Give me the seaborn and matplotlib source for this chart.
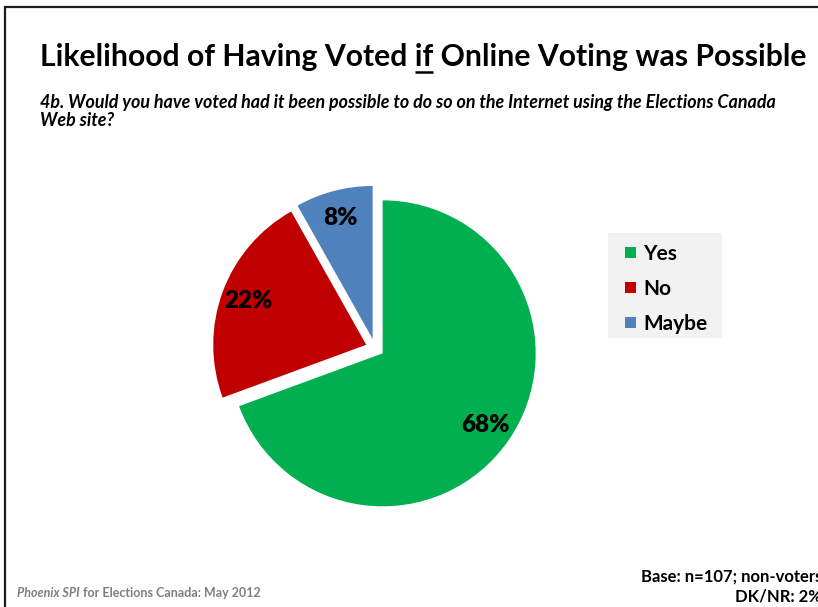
import matplotlib
matplotlib.use("Agg")
import matplotlib.pyplot as plt
from matplotlib.patches import Rectangle
from matplotlib.lines import Line2D
import seaborn as sns

# Survey responses (DK/NR 2% not shown in the pie)
answers = ["Yes", "No", "Maybe"]
shares = [68, 22, 8]
colors = ["#00B050", "#C00000", "#4F81BD"]

title_before = "Likelihood of Having Voted "
title_key = "if"
title_after = " Online Voting was Possible"
question_lines = ["4b. Would you have voted had it been possible to do so on the Internet using the Elections Canada",
                  "Web site?"]
source_name = "Phoenix SPI"
source_rest = " for Elections Canada: May 2012"
base_note = "Base: n=107; non-voters"
dk_note = "DK/NR: 2%"

sns.set_theme(style="white")
plt.rcParams["font.family"] = ["Lato", "DejaVu Sans"]

W, H = 818, 607
fig = plt.figure(figsize=(W / 100, H / 100), dpi=100)
fig.patch.set_facecolor("white")
renderer = fig.canvas.get_renderer()


def px(x, y):
    """Pixel position (from top-left) to figure fraction."""
    return x / W, 1 - y / H


def fitted_size(text, target_px, **kw):
    """Font size at which `text` spans target_px pixels."""
    probe = fig.text(0, 0, text, fontsize=20, **kw)
    w = probe.get_window_extent(renderer).width
    probe.remove()
    return 20 * target_px / w


# slide frame
fig.add_artist(Rectangle((5 / W, -0.05), 1.2, 1 - 6.5 / H + 0.05, transform=fig.transFigure,
                         fill=False, edgecolor="#1a1a1a", linewidth=1.6))

# pie axes: centre and radius in pixels
cx, cy, r = 375, 348, 153
half = 200
ax = fig.add_axes([(cx - half) / W, (H - cy - half) / H, 2 * half / W, 2 * half / H])
lim = half / r
ax.axis("off")

labels_iter = iter(shares)
wedges, _, autotexts = ax.pie(
    shares, colors=colors, startangle=90, counterclock=False,
    explode=[0.061] * len(shares), radius=1.0,
    autopct=lambda p: f"{next(labels_iter)}%", pctdistance=0.82,
    wedgeprops=dict(linewidth=0),
    textprops=dict(fontsize=17.5, fontweight="heavy", color="black"),
)
ax.set_aspect("equal")
ax.set_xlim(-lim, lim)
ax.set_ylim(-lim, lim)

# legend panel
fig.add_artist(Rectangle(px(608, 338), 114 / W, 105 / H, transform=fig.transFigure,
                         facecolor="#F2F2F2", edgecolor="none"))
for i, (name, col) in enumerate(zip(answers, colors)):
    yc = 252 + 35 * i
    fig.add_artist(Rectangle(px(625, yc + 5.5), 11 / W, 11 / H, transform=fig.transFigure,
                             facecolor=col, edgecolor="none"))
    fig.text(*px(643, yc), name, fontsize=15, fontweight="bold", color="black",
             ha="left", va="center_baseline")

# title with underlined keyword
full = title_before + title_key + title_after
tsize = fitted_size(full, 765, fontweight="bold")
title_kw = dict(fontsize=tsize, fontweight="bold", color="black", va="baseline", ha="left")
tx, ty = px(40, 66)
fig.text(tx, ty, full, **title_kw)
probe_a = fig.text(tx, ty, title_before + title_key, **title_kw)
probe_b = fig.text(tx, ty, title_key, **title_kw)
ea = probe_a.get_window_extent(renderer)
eb = probe_b.get_window_extent(renderer)
probe_a.remove()
probe_b.remove()
x1 = ea.x1
x0 = x1 - eb.width
uy = ty - 6 / H
fig.add_artist(Line2D([x0 / W, x1 / W], [uy, uy], transform=fig.transFigure,
                      color="black", linewidth=1.8, solid_capstyle="butt"))

# question text
qsize = fitted_size(question_lines[0], 738, fontweight="bold", fontstyle="italic")
for i, line in enumerate(question_lines):
    fig.text(*px(40, 108 + 18 * i), line, fontsize=qsize, fontweight="bold",
             fontstyle="italic", color="black", ha="left", va="baseline")

# footer
fsize = fitted_size(source_name + source_rest, 248, fontweight="bold")
src = fig.text(*px(17, 597), source_name, fontsize=fsize, fontstyle="italic",
               fontweight="bold", color="#7F7F7F", ha="left", va="baseline")
se = src.get_window_extent(renderer)
fig.text(se.x1 / W, 1 - 597 / H, source_rest, fontsize=fsize, fontweight="bold",
         color="#7F7F7F", ha="left", va="baseline")

fig.text(*px(822, 582), base_note, fontsize=12, fontweight="bold", color="black",
         ha="right", va="baseline")
fig.text(*px(822, 602), dk_note, fontsize=12, fontweight="bold", color="black",
         ha="right", va="baseline")

fig.savefig("out.png", dpi=100, facecolor="white")
